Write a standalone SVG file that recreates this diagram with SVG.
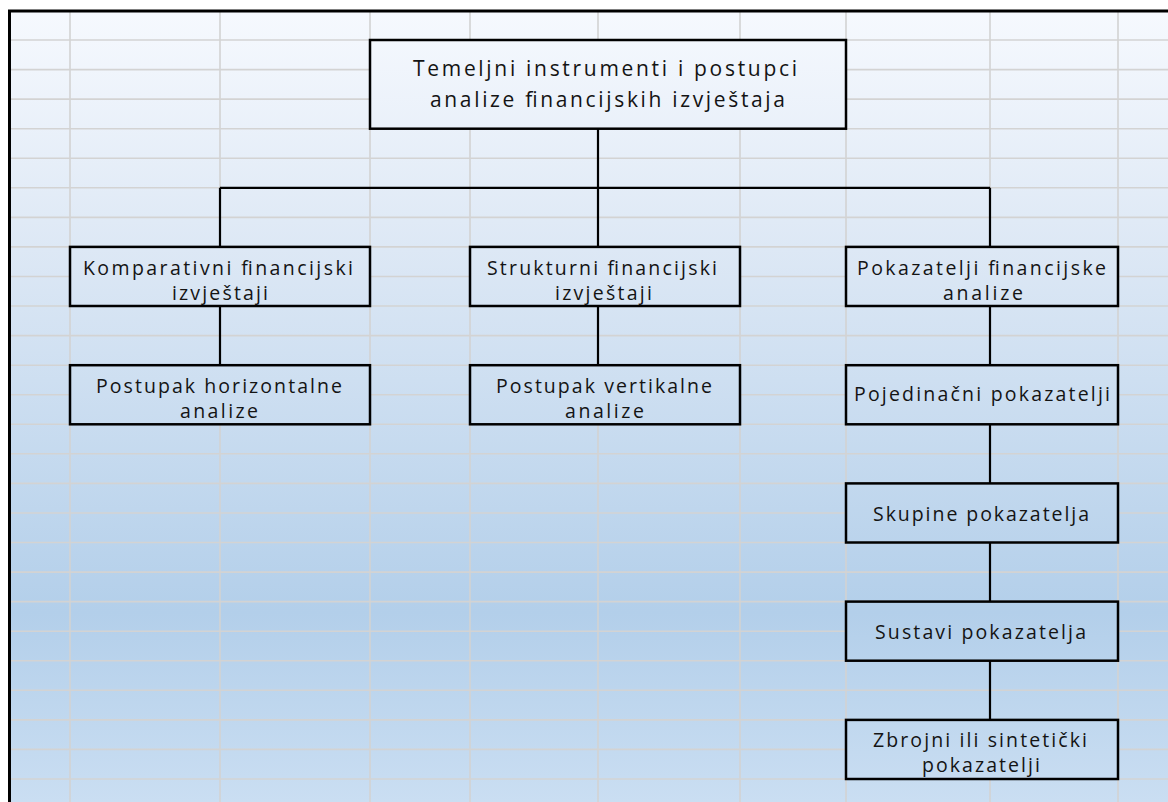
<svg xmlns="http://www.w3.org/2000/svg" width="1168" height="802" viewBox="0 0 1168 802">
<defs>
<linearGradient id="bg" gradientUnits="userSpaceOnUse" x1="0" y1="12" x2="0" y2="802">
<stop offset="0" stop-color="#f6f9fe"/>
<stop offset="0.3" stop-color="#dde8f5"/>
<stop offset="0.76" stop-color="#b3cfea"/>
<stop offset="1" stop-color="#cadef2"/>
</linearGradient>
<style>
.box{fill:url(#bg);stroke:#000;stroke-width:2.5}
.conn{fill:none;stroke:#000;stroke-width:2.2}
.grid{fill:none;stroke:#d3d3d3;stroke-width:1.6}
text{font-family:"Open Sans","Noto Sans","DejaVu Sans",sans-serif;font-size:19.5px;fill:#141414;text-anchor:middle}
</style>
</defs>
<rect x="0" y="0" width="1168" height="802" fill="#fff"/>
<rect x="9" y="12" width="1159" height="790" fill="url(#bg)"/>
<path class="grid" d="M70 12V802M220 12V802M370 12V802M470 12V802M598 12V802M740 12V802M846 12V802M990 12V802M1118 12V802M11 40H1168M11 69.6H1168M11 99.1H1168M11 128.7H1168M11 158.2H1168M11 187.8H1168M11 217.4H1168M11 246.9H1168M11 276.5H1168M11 306H1168M11 335.6H1168M11 365.2H1168M11 394.7H1168M11 424.3H1168M11 453.8H1168M11 483.4H1168M11 513H1168M11 542.5H1168M11 572.1H1168M11 601.6H1168M11 631.2H1168M11 660.8H1168M11 690.3H1168M11 719.9H1168M11 749.4H1168M11 779H1168"/>
<path d="M8 11H1168M9.5 9.5V802" fill="none" stroke="#000" stroke-width="3"/>
<g id="connectors">
<path class="conn" d="M598 128.7V187.8M220 187.8H990M220 187.8V246.9M598 187.8V246.9M990 187.8V246.9M220 306V365.2M598 306V365.2M990 306V365.2M990 424.3V483.4M990 542.5V601.6M990 660.8V719.9"/>
</g>
<g id="n-root">
<rect class="box" x="370" y="40" width="476" height="88.7"/>
<text x="605" y="76" textLength="384" lengthAdjust="spacing" style="font-size:21px">Temeljni instrumenti i postupci</text>
<text x="607.5" y="107" textLength="355" lengthAdjust="spacing" style="font-size:21px">analize financijskih izvještaja</text>
</g>
<g id="n-komparativni">
<rect class="box" x="70" y="246.9" width="300" height="59.1"/>
<text x="218" y="275" textLength="270" lengthAdjust="spacing">Komparativni financijski</text>
<text x="220" y="300" textLength="96" lengthAdjust="spacing">izvještaji</text>
</g>
<g id="n-strukturni">
<rect class="box" x="470" y="246.9" width="270" height="59.1"/>
<text x="602" y="275" textLength="230" lengthAdjust="spacing">Strukturni financijski</text>
<text x="603.5" y="300" textLength="97" lengthAdjust="spacing">izvještaji</text>
</g>
<g id="n-pokazatelji">
<rect class="box" x="846" y="246.9" width="272" height="59.1"/>
<text x="981.5" y="275" textLength="249" lengthAdjust="spacing">Pokazatelji financijske</text>
<text x="983" y="300" textLength="80" lengthAdjust="spacing">analize</text>
</g>
<g id="n-horizontalne">
<rect class="box" x="70" y="365.2" width="300" height="59.1"/>
<text x="219" y="393" textLength="246" lengthAdjust="spacing">Postupak horizontalne</text>
<text x="219" y="418" textLength="78" lengthAdjust="spacing">analize</text>
</g>
<g id="n-vertikalne">
<rect class="box" x="470" y="365.2" width="270" height="59.1"/>
<text x="604" y="393" textLength="216" lengthAdjust="spacing">Postupak vertikalne</text>
<text x="604.5" y="418" textLength="79" lengthAdjust="spacing">analize</text>
</g>
<g id="n-pojedinacni">
<rect class="box" x="846" y="365.2" width="272" height="59.1"/>
<text x="982" y="401" textLength="256" lengthAdjust="spacing">Pojedinačni pokazatelji</text>
</g>
<g id="n-skupine">
<rect class="box" x="846" y="483.4" width="272" height="59.1"/>
<text x="981" y="521" textLength="216" lengthAdjust="spacing">Skupine pokazatelja</text>
</g>
<g id="n-sustavi">
<rect class="box" x="846" y="601.6" width="272" height="59.1"/>
<text x="980.5" y="639" textLength="211" lengthAdjust="spacing">Sustavi pokazatelja</text>
</g>
<g id="n-zbrojni">
<rect class="box" x="846" y="719.9" width="272" height="59.1"/>
<text x="980" y="747" textLength="214" lengthAdjust="spacing">Zbrojni ili sintetički</text>
<text x="981" y="772" textLength="118" lengthAdjust="spacing">pokazatelji</text>
</g>
</svg>
